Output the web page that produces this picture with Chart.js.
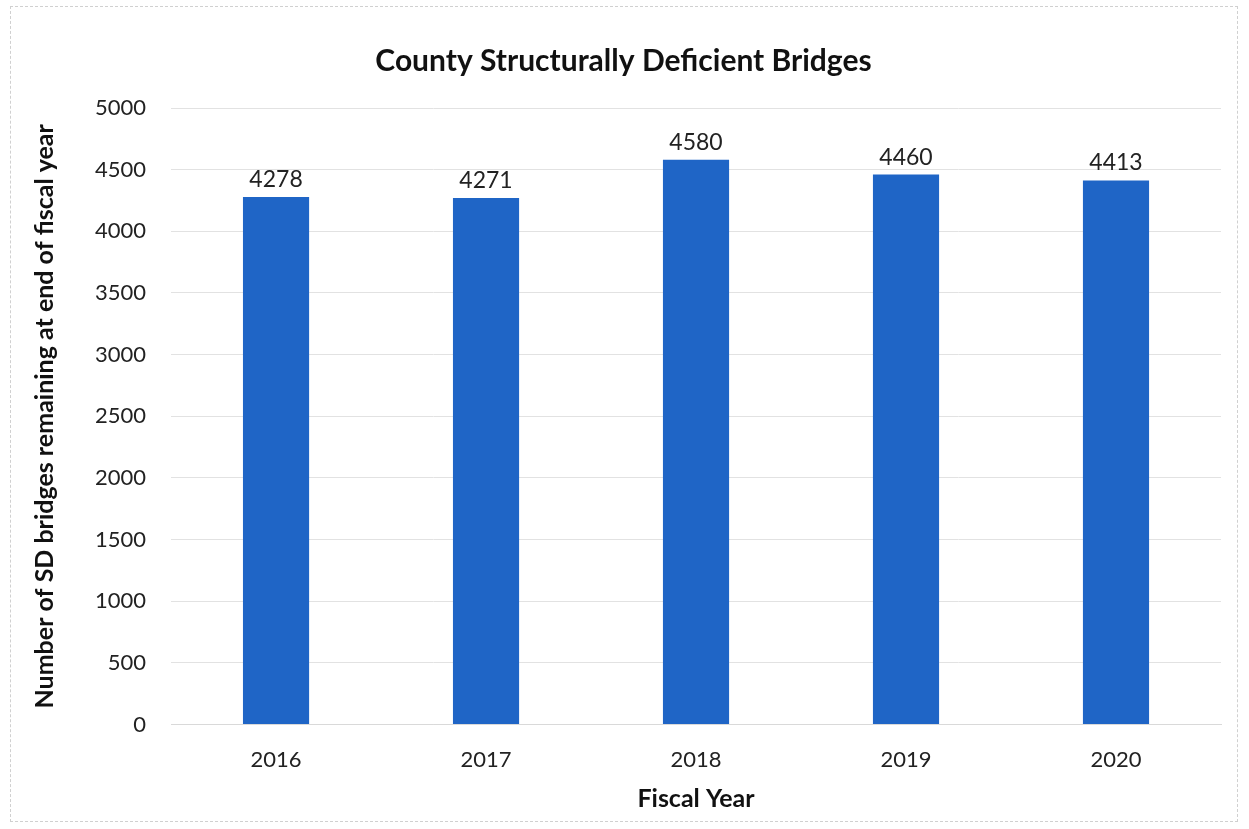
<!DOCTYPE html>
<html>
<head>
<meta charset="utf-8">
<script src="https://cdn.jsdelivr.net/npm/chart.js@4/dist/chart.umd.min.js"></script>
<style>
  html, body { margin: 0; padding: 0; background: #fff; }
  #wrap { position: absolute; left: 10px; top: 6px; width: 1228px; height: 816px; border: 1px dashed #d0d0d0; box-sizing: border-box; }
  canvas { display: block; }
</style>
</head>
<body>
<div id="wrap"><canvas id="cnvBridges"></canvas></div>
<script>
  const years = ['2016', '2017', '2018', '2019', '2020']
  const sdBridges = [4278, 4271, 4580, 4460, 4413]
  const yTicks = [0, 500, 1000, 1500, 2000, 2500, 3000, 3500, 4000, 4500, 5000]

  const barColor = '#1f65c6'
  const fontFam = 'Lato, "Open Sans", sans-serif'

  // draw the value above each bar
  const valueLabels = {
    id: 'valueLabels',
    afterDatasetsDraw(chart) {
      let ctx = chart.ctx
      let meta = chart.getDatasetMeta(0)
      ctx.save()
      ctx.font = '23px ' + fontFam
      ctx.fillStyle = '#222'
      ctx.textAlign = 'center'
      ctx.textBaseline = 'bottom'
      meta.data.forEach((bar, i) => {
        ctx.fillText(sdBridges[i], bar.x, bar.y - 6)
      })
      ctx.restore()
    }
  }

  let ctx = document.getElementById('cnvBridges').getContext('2d')
  let chart = new Chart(ctx, {
    type: 'bar',
    data: {
      labels: years,
      datasets: [{
        label: 'SD bridges',
        data: sdBridges,
        backgroundColor: barColor,
        barPercentage: 0.315,
        categoryPercentage: 1,
      }],
    },
    options: {
      responsive: true,
      maintainAspectRatio: false,
      animation: false,
      layout: { padding: { left: 15, right: 16, top: 36, bottom: 7 } },
      plugins: {
        legend: { display: false },
        tooltip: { enabled: false },
        title: {
          display: true,
          text: 'County Structurally Deficient Bridges',
          color: '#111',
          font: { family: fontFam, size: 30, weight: 'bold' },
          padding: { top: 0, bottom: 29 },
        },
      },
      scales: {
        x: {
          grid: { display: false },
          border: { color: '#d9d9d9' },
          ticks: { color: '#222', font: { family: fontFam, size: 22 }, padding: 14 },
          title: {
            display: true,
            text: 'Fiscal Year',
            color: '#111',
            font: { family: fontFam, size: 25, weight: 'bold' },
            padding: { top: -3, bottom: 0 },
          },
        },
        y: {
          min: 0,
          max: 5000,
          afterBuildTicks: (axis) => { axis.ticks = yTicks.map((v) => ({ value: v })) },
          grid: { color: '#e2e2e2', drawTicks: false },
          border: { display: false },
          ticks: {
            color: '#222',
            font: { family: fontFam, size: 22 },
            padding: 25,
            callback: (v) => String(v),
          },
          title: {
            display: true,
            text: 'Number of SD bridges remaining at end of fiscal year',
            color: '#111',
            font: { family: fontFam, size: 25, weight: 'bold' },
            padding: { bottom: 10 },
          },
        },
      },
    },
    plugins: [valueLabels],
  })
</script>
</body>
</html>
